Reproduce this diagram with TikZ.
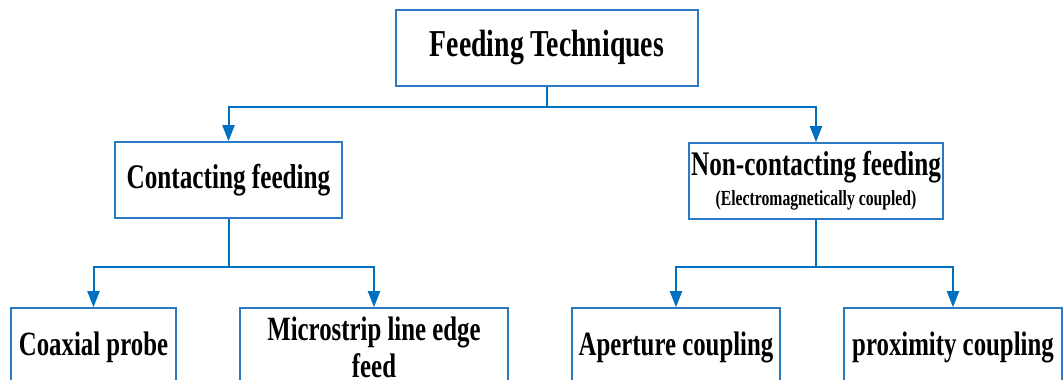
\documentclass[tikz,border=0pt]{standalone}
\usepackage{fontspec}
\setmainfont[FakeStretch=0.73]{Liberation Serif}
\usetikzlibrary{arrows.meta}
\definecolor{lineblue}{HTML}{0070C0}
\definecolor{boxblue}{HTML}{2B7BC4}
\tikzset{
  box/.style={draw=boxblue, line width=1.6pt, inner sep=0pt, align=center},
  conn/.style={draw=lineblue, line width=2pt, -{Triangle[length=16pt,width=12pt]}},
  plain/.style={draw=lineblue, line width=2pt}
}
\begin{document}
\begin{tikzpicture}[x=1pt,y=-1pt]
\useasboundingbox (0,0) rectangle (1063,380);
\clip (0,0) rectangle (1063,380);
\node[box, minimum width=302pt, minimum height=76pt, font=\bfseries\fontsize{38}{40}\selectfont] (top) at (547,48)
  {Feeding Techniques};
\node[box, minimum width=227pt, minimum height=76pt, font=\bfseries\fontsize{34.5}{36}\selectfont] (cf) at (228.5,180)
  {Contacting feeding};
\node[box, minimum width=254pt, minimum height=76pt, font=\bfseries\fontsize{34.5}{36}\selectfont] (ncf) at (816,181)
  {Non-contacting feeding\\[-6pt]{\fontsize{21.5}{22}\selectfont(Electromagnetically coupled)}};
\node[box, minimum width=165pt, minimum height=78pt, font=\bfseries\fontsize{34}{37}\selectfont] (cp) at (93.5,347)
  {Coaxial probe};
\node[box, minimum width=268pt, minimum height=78pt, font=\bfseries\fontsize{34}{37}\selectfont] (ms) at (374,347)
  {Microstrip line edge\\feed};
\node[box, minimum width=208pt, minimum height=78pt, font=\bfseries\fontsize{34}{37}\selectfont] (ap) at (676,347)
  {Aperture coupling};
\node[box, minimum width=218pt, minimum height=78pt, font=\bfseries\fontsize{34}{37}\selectfont] (px) at (953,347)
  {proximity coupling};
\coordinate (j1) at (547,107);
\coordinate (j2) at (228.5,267);
\coordinate (j3) at (816,267);
\draw[plain] (top.south) -- (j1);
\draw[conn] (j1) -| (cf.north);
\draw[conn] (j1) -| (ncf.north);
\draw[plain] (cf.south) -- (j2);
\draw[conn] (j2) -| (cp.north);
\draw[conn] (j2) -| (ms.north);
\draw[plain] (ncf.south) -- (j3);
\draw[conn] (j3) -| (ap.north);
\draw[conn] (j3) -| (px.north);
\end{tikzpicture}
\end{document}
